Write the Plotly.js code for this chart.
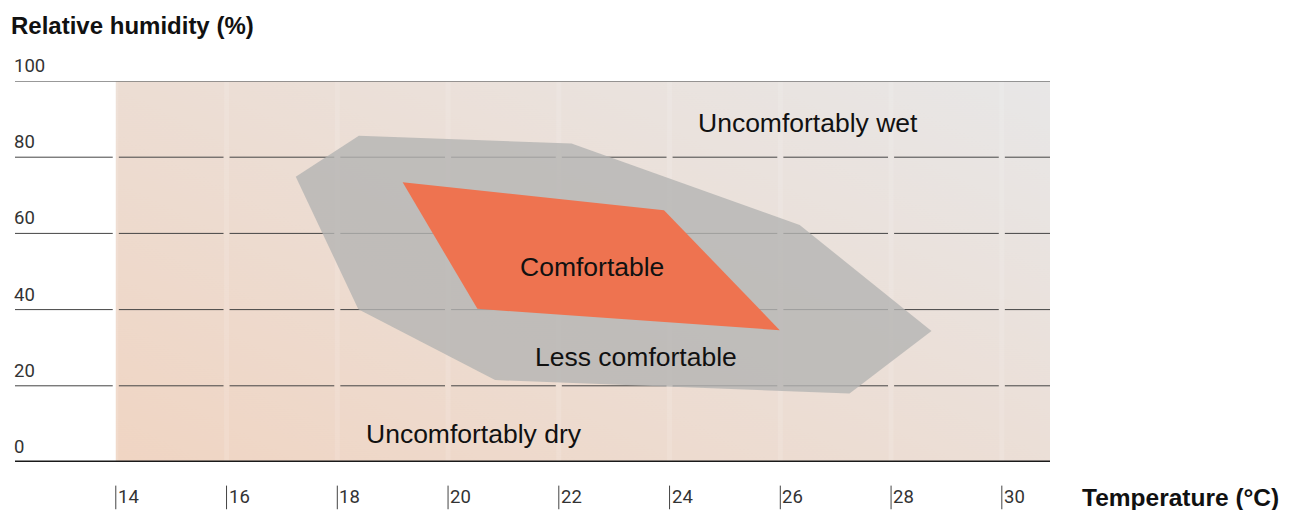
<!DOCTYPE html>
<html>
<head>
<meta charset="utf-8">
<script src="https://cdn.plot.ly/plotly-3.0.1.min.js"></script>
<style>html,body{margin:0;padding:0;background:#fff;}#chart{width:1292px;height:510px;}</style>
</head>
<body>
<div id="chart"></div>
<script>
// ---- data ----
const tempTicks = [14, 16, 18, 20, 22, 24, 26, 28, 30];
const tempTickLabels = ["14", "16", "18", "20", "22", "24", "26", "28", "30"];
const humidityTicks = [0, 20, 40, 60, 80, 100];
const humidityTickLabels = ["0", "20", "40", "60", "80", "100"];

const lessComfortTemp = [17.25, 18.39, 22.23, 26.35, 28.73, 27.25, 20.85, 18.38];
const lessComfortHum  = [74.9, 85.6, 83.6, 62.2, 34.4, 18.0, 21.5, 40.1];

const comfortTemp = [19.18, 23.90, 25.99, 20.53];
const comfortHum  = [73.4, 66.1, 34.6, 40.2];

const zoneLabels = ["Uncomfortably wet", "Comfortable", "Less comfortable", "Uncomfortably dry"];
const zoneLabelTemp = [26.5, 22.6, 23.4, 20.46];
const zoneLabelHum  = [88.9, 51.2, 27.6, 7.3];

const xTitle = "Temperature (°C)";
const yTitle = "Relative humidity (%)";

// ---- layout constants ----
const xRange = [12.18, 30.87];
const shadeStart = 14;
const gapHalf = 0.055;

// background gradient image
function gradientURL() {
  const W = 935, H = 381;
  const c = document.createElement('canvas');
  c.width = W; c.height = H;
  const ctx = c.getContext('2d');
  const g = ctx.createLinearGradient(0, H, 339, H - 679);
  g.addColorStop(0, '#f0d5c3');
  g.addColorStop(1, '#e8e7e7');
  ctx.fillStyle = g;
  ctx.fillRect(0, 0, W, H);
  return c.toDataURL('image/png');
}

// gridline segments with gaps at each temperature tick
const gridX = [], gridY = [];
humidityTicks.filter(v => v > 0 && v < 100).forEach(h => {
  const stops = [xRange[0]].concat(tempTicks).concat([xRange[1]]);
  for (let i = 0; i < stops.length - 1; i++) {
    const a = stops[i] === xRange[0] ? stops[i] : stops[i] + gapHalf;
    const b = stops[i + 1] === xRange[1] ? stops[i + 1] : stops[i + 1] - gapHalf;
    gridX.push(a, b, null);
    gridY.push(h, h, null);
  }
});

const traces = [
  { x: gridX, y: gridY, mode: 'lines', line: { color: '#444444', width: 1 }, hoverinfo: 'skip', showlegend: false },
  { x: lessComfortTemp, y: lessComfortHum, mode: 'lines', fill: 'toself', fillcolor: 'rgba(180,180,179,0.8)',
    line: { width: 0, color: 'rgba(0,0,0,0)' }, hoverinfo: 'skip', showlegend: false },
  { x: comfortTemp, y: comfortHum, mode: 'lines', fill: 'toself', fillcolor: '#ee7350',
    line: { width: 0, color: 'rgba(0,0,0,0)' }, hoverinfo: 'skip', showlegend: false }
];

const shapes = [];
tempTicks.forEach(t => {
  shapes.push({ type: 'line', layer: 'between', xref: 'x', yref: 'y', x0: t, x1: t, y0: 0, y1: 100,
    line: { color: 'rgba(255,255,255,0.12)', width: 5 } });
  // tick bar below the axis
  shapes.push({ type: 'line', layer: 'above', xref: 'x', yref: 'paper', x0: t, x1: t, y0: -0.062, y1: -0.124,
    line: { color: '#444444', width: 1 } });
});
shapes.push({ type: 'line', layer: 'above', xref: 'paper', yref: 'y', x0: 0, x1: 1, y0: 100, y1: 100,
  line: { color: '#777777', width: 1.5 } });
shapes.push({ type: 'line', layer: 'above', xref: 'paper', yref: 'y', x0: 0, x1: 1, y0: 0, y1: 0,
  line: { color: '#1a1a1a', width: 3 } });

const annotations = [];
zoneLabels.forEach((txt, i) => {
  annotations.push({ text: txt, x: zoneLabelTemp[i], y: zoneLabelHum[i], xref: 'x', yref: 'y',
    showarrow: false, xanchor: 'center', yanchor: 'middle',
    font: { family: 'Liberation Sans, Arial, sans-serif', size: 26.5, color: '#111111' } });
});
tempTicks.forEach((t, i) => {
  annotations.push({ text: tempTickLabels[i], x: t, y: 0, xref: 'x', yref: 'paper',
    showarrow: false, xanchor: 'left', yanchor: 'middle', xshift: 0, yshift: -35,
    font: { family: 'Roboto, sans-serif', size: 18.5, color: '#333333' } });
});
humidityTicks.forEach((h, i) => {
  annotations.push({ text: humidityTickLabels[i], x: 0, y: h, xref: 'paper', yref: 'y',
    showarrow: false, xanchor: 'left', yanchor: 'middle', xshift: -3, yshift: 15,
    font: { family: 'Roboto, sans-serif', size: 18.5, color: '#333333' } });
});
annotations.push({ text: '<b>' + yTitle + '</b>', x: 0, y: 1, xref: 'paper', yref: 'paper',
  showarrow: false, xanchor: 'left', yanchor: 'middle', xshift: -6, yshift: 56,
  font: { family: 'Liberation Sans, Arial, sans-serif', size: 24, color: '#111111' } });
annotations.push({ text: '<b>' + xTitle + '</b>', x: 1, y: 0, xref: 'paper', yref: 'paper',
  showarrow: false, xanchor: 'left', yanchor: 'middle', xshift: 30, yshift: -35,
  font: { family: 'Liberation Sans, Arial, sans-serif', size: 24.5, color: '#111111' } });

const layout = {
  width: 1292, height: 510,
  margin: { l: 15, r: 242, t: 81, b: 48, pad: 0 },
  paper_bgcolor: '#ffffff', plot_bgcolor: 'rgba(0,0,0,0)',
  showlegend: false,
  xaxis: { range: xRange, showgrid: false, zeroline: false, showticklabels: false, showline: false, ticks: '', fixedrange: true },
  yaxis: { range: [0, 100], showgrid: false, zeroline: false, showticklabels: false, showline: false, ticks: '', fixedrange: true },
  images: [{ source: gradientURL(), xref: 'x', yref: 'y', x: shadeStart, y: 100,
    sizex: xRange[1] - shadeStart, sizey: 100, sizing: 'stretch', layer: 'below', xanchor: 'left', yanchor: 'top' }],
  shapes: shapes,
  annotations: annotations
};

Plotly.newPlot('chart', traces, layout, { displayModeBar: false, staticPlot: true });
</script>
</body>
</html>
